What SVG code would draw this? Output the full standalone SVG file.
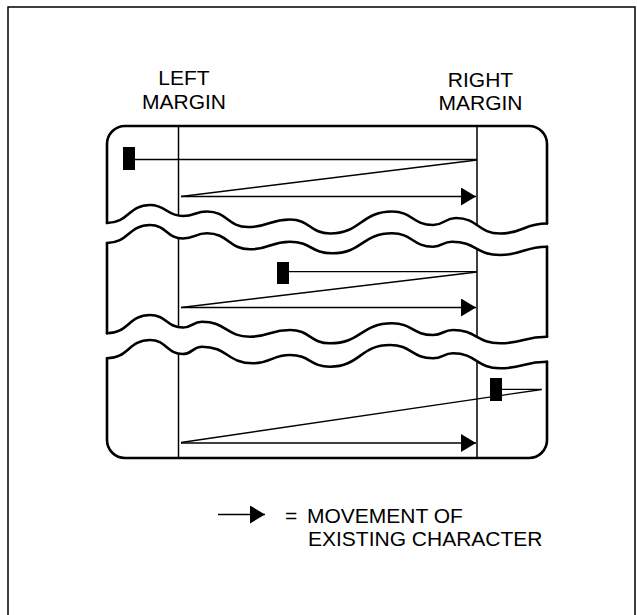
<svg xmlns="http://www.w3.org/2000/svg" width="637" height="615" viewBox="0 0 637 615">
<style>
.frame{fill:none;stroke:#000;stroke-width:1.5}
.edge{fill:none;stroke:#000;stroke-width:2.6;stroke-linejoin:round;stroke-linecap:round}
.margin{fill:none;stroke:#000;stroke-width:1.5}
.mv{fill:none;stroke:#000;stroke-width:1.3}
.blk{fill:#000}
.lbl{font-family:"Liberation Sans",Arial,sans-serif;font-size:21px;fill:#000}
</style>
<defs>
<marker id="ah" viewBox="0 0 15 18" refX="15" refY="9" markerWidth="15" markerHeight="18" markerUnits="userSpaceOnUse" orient="auto">
<path d="M0 0 L15 9 L0 18 Z" fill="#000"/>
</marker>
</defs>
<rect class="frame" x="8" y="7" width="627" height="630"/>
<g id="labels">
<text class="lbl" x="184" y="85" text-anchor="middle">LEFT</text>
<text class="lbl" x="184" y="108.5" text-anchor="middle">MARGIN</text>
<text class="lbl" x="480.5" y="86.5" text-anchor="middle">RIGHT</text>
<text class="lbl" x="480.5" y="110" text-anchor="middle">MARGIN</text>
</g>
<g id="panel-top">
<path class="edge" d="M107 223 V144 A18 18 0 0 1 125 126 H529 A18 18 0 0 1 547 144 V223.5"/>
<path class="edge" d="M107 223 C128.5 223 128.5 205 150 205 C166.5 205 166.5 216 183 216 C195 216 195 211.5 207 211.5 C227.5 211.5 227.5 227 248 227 C269 227 269 219.5 290 219.5 C310 219.5 310 233.5 330 233.5 C361 233.5 361 211.5 392 211.5 C412.5 211.5 412.5 225 433 225 C444.5 225 444.5 218 456 218 C478 218 478 233.5 500 233.5 C523.5 233.5 523.5 223.5 547 223.5"/>
<line class="margin" x1="178.5" y1="126" x2="178.5" y2="215.7"/>
<line class="margin" x1="477" y1="126" x2="477" y2="225"/>
<rect class="blk" x="123" y="147" width="12" height="23"/>
</g>
<g id="panel-middle">
<path class="edge" d="M107 243 C128.5 243 128.5 225 150 225 C166.5 225 166.5 238.5 183 238.5 C195 238.5 195 233.3 207 233.3 C228.5 233.3 228.5 249.3 250 249.3 C270 249.3 270 241.7 290 241.7 C311 241.7 311 253.3 332 253.3 C362 253.3 362 233.3 392 233.3 C412.5 233.3 412.5 246.7 433 246.7 C442.5 246.7 442.5 241.7 452 241.7 C476 241.7 476 255 500 255 C523.5 255 523.5 246.7 547 246.7"/>
<path class="edge" d="M107 243 V333.3"/>
<path class="edge" d="M547 246.7 V336.7"/>
<path class="edge" d="M107 333.3 C128.5 333.3 128.5 315 150 315 C166.5 315 166.5 327.5 183 327.5 C192.5 327.5 192.5 321.7 202 321.7 C226 321.7 226 336.7 250 336.7 C270 336.7 270 330 290 330 C310 330 310 343.3 330 343.3 C361 343.3 361 323.3 392 323.3 C412.5 323.3 412.5 335 433 335 C443 335 443 330 453 330 C476.5 330 476.5 343.3 500 343.3 C523.5 343.3 523.5 336.7 547 336.7"/>
<line class="margin" x1="178.5" y1="238.1" x2="178.5" y2="327.2"/>
<line class="margin" x1="477" y1="248.7" x2="477" y2="336.9"/>
<rect class="blk" x="277" y="262" width="12" height="22"/>
</g>
<g id="panel-bottom">
<path class="edge" d="M107 358.3 C128.5 358.3 128.5 340 150 340 C166.5 340 166.5 354 183 354 C192.5 354 192.5 346.7 202 346.7 C227.5 346.7 227.5 363.3 253 363.3 C271.5 363.3 271.5 355 290 355 C310 355 310 366.7 330 366.7 C360 366.7 360 345 390 345 C411.5 345 411.5 358.3 433 358.3 C443 358.3 443 353.3 453 353.3 C476.5 353.3 476.5 368.3 500 368.3 C523.5 368.3 523.5 361.7 547 361.7"/>
<path class="edge" d="M107 358.3 V440 A18 18 0 0 0 125 458 H529 A18 18 0 0 0 547 440 V361.7"/>
<line class="margin" x1="178.5" y1="353.6" x2="178.5" y2="458"/>
<line class="margin" x1="477" y1="361" x2="477" y2="458"/>
</g>
<g id="connectors">
<line class="mv" x1="135" y1="159.5" x2="477" y2="159.5"/>
<line class="mv" x1="477" y1="160" x2="181" y2="196.5"/>
<line class="mv" x1="181" y1="196.5" x2="476" y2="196.5" marker-end="url(#ah)"/>
<line class="mv" x1="289" y1="271.7" x2="477" y2="271.7"/>
<line class="mv" x1="477" y1="272" x2="181" y2="307.5"/>
<line class="mv" x1="181" y1="307.5" x2="476" y2="307.5" marker-end="url(#ah)"/>
<line class="mv" x1="502" y1="389.3" x2="541.7" y2="389.3"/>
<line class="mv" x1="541.7" y1="389.5" x2="181" y2="442.5"/>
<line class="mv" x1="181" y1="443" x2="476" y2="443" marker-end="url(#ah)"/>
</g>
<g id="block-bottom">
<rect class="blk" x="490" y="378" width="12" height="23"/>
</g>
<g id="legend">
<line class="mv" x1="218" y1="514.5" x2="265" y2="514.5" stroke-width="1.6" marker-end="url(#ah)"/>
<text class="lbl" x="285" y="523">= <tspan x="307">MOVEMENT OF</tspan></text>
<text class="lbl" x="308" y="545.5">EXISTING CHARACTER</text>
</g>
</svg>
